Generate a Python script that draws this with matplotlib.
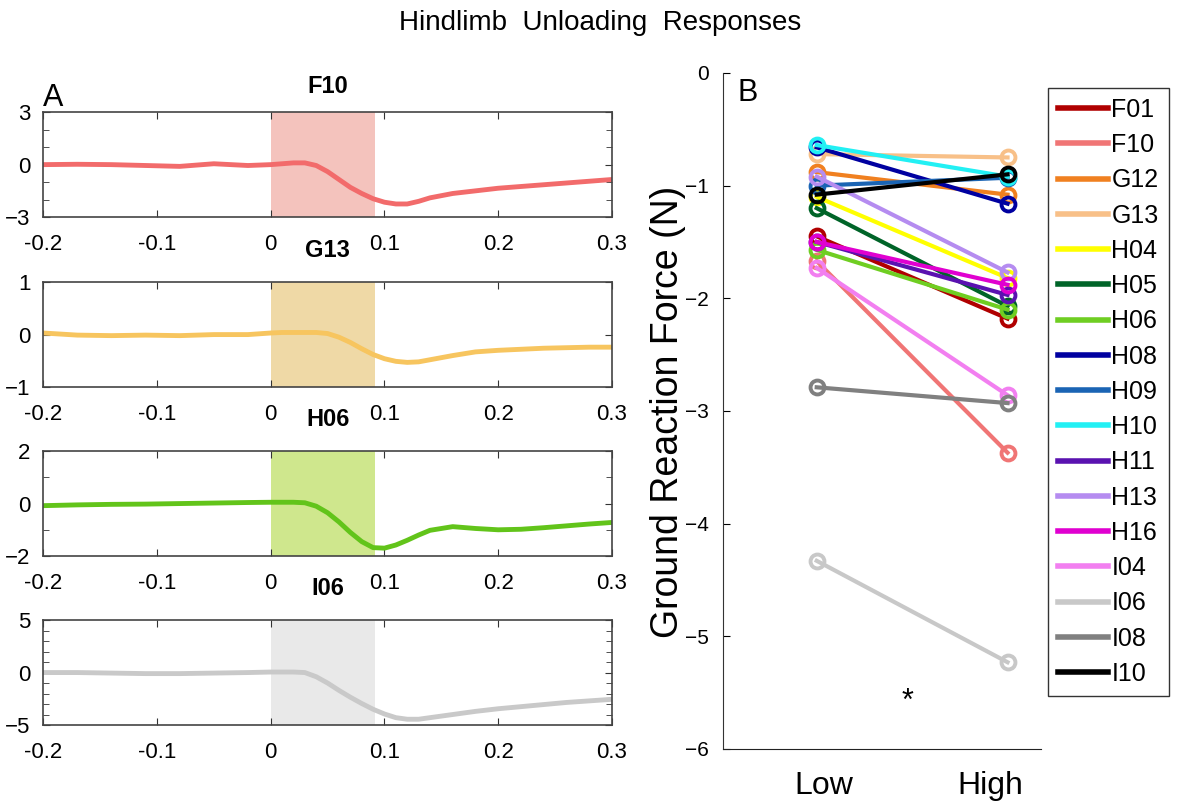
import numpy as np
import matplotlib.pyplot as plt
from matplotlib.ticker import MultipleLocator

plt.rcParams['font.family'] = ['Liberation Sans', 'DejaVu Sans']

# ---- panel A: traces ----
t = [-0.2, -0.17, -0.14, -0.11, -0.08, -0.05, -0.02, 0.0, 0.01, 0.02, 0.03,
     0.04, 0.05, 0.06, 0.07, 0.08, 0.09, 0.10, 0.11, 0.12, 0.13, 0.14, 0.16,
     0.18, 0.20, 0.22, 0.24, 0.26, 0.28, 0.30]

f10 = [0.0, 0.02, 0.0, -0.05, -0.1, 0.05, -0.05, 0.0, 0.05, 0.1, 0.1,
       -0.05, -0.4, -0.85, -1.3, -1.65, -1.95, -2.15, -2.25, -2.25, -2.1, -1.9, -1.65,
       -1.5, -1.35, -1.25, -1.15, -1.05, -0.95, -0.85]
g13 = [0.03, -0.01, -0.02, -0.01, -0.02, 0.0, 0.0, 0.03, 0.04, 0.04, 0.04,
       0.04, 0.02, -0.05, -0.15, -0.27, -0.38, -0.46, -0.51, -0.53, -0.52, -0.48, -0.4,
       -0.33, -0.3, -0.28, -0.26, -0.25, -0.24, -0.24]
h06 = [-0.08, -0.05, -0.03, -0.02, 0.0, 0.02, 0.04, 0.05, 0.05, 0.05, 0.03,
       -0.1, -0.35, -0.7, -1.1, -1.45, -1.68, -1.7, -1.58, -1.4, -1.2, -1.02, -0.88,
       -0.95, -1.0, -0.98, -0.92, -0.85, -0.78, -0.72]
i06 = [0.0, 0.0, -0.05, -0.1, -0.1, -0.05, 0.0, 0.05, 0.05, 0.05, 0.0,
       -0.4, -1.0, -1.7, -2.35, -2.95, -3.5, -3.95, -4.3, -4.45, -4.45, -4.3, -4.0,
       -3.7, -3.45, -3.25, -3.05, -2.85, -2.7, -2.55]

trace_names = ['F10', 'G13', 'H06', 'I06']
traces = [f10, g13, h06, i06]
trace_colors = ['#f26b6b', '#f7c55f', '#62c41a', '#c9c9c9']
shade_colors = ['#f4c3bd', '#efd9a6', '#cfe78d', '#e9e9e9']
ylims = [3, 1, 2, 5]
window_end = 0.092

# ---- panel B: low / high ----
animals = ['F01', 'F10', 'G12', 'G13', 'H04', 'H05', 'H06', 'H08', 'H09',
           'H10', 'H11', 'H13', 'H16', 'I04', 'I06', 'I08', 'I10']
low = [-1.45, -1.67, -0.88, -0.72, -1.1, -1.2, -1.57, -0.66, -1.0,
       -0.64, -1.5, -0.92, -1.5, -1.73, -4.33, -2.79, -1.08]
high = [-2.18, -3.37, -1.08, -0.75, -1.82, -2.07, -2.1, -1.16, -0.93,
        -0.92, -1.97, -1.77, -1.88, -2.86, -5.23, -2.93, -0.9]
colors = ['#b00000', '#f07575', '#f08020', '#f8c088', '#ffff00', '#006428',
          '#6fce22', '#0000a0', '#1a64b4', '#22f0f4', '#5a12b0', '#b58cf0',
          '#e000d0', '#f27ff0', '#c8c8c8', '#808080', '#000000']

fig = plt.figure(figsize=(12, 8.07), dpi=100)
fig.text(0.5, 0.972, 'Hindlimb  Unloading  Responses', ha='center', va='center',
         fontsize=20)

bottoms = [0.731, 0.5204, 0.311, 0.1016]
for i in range(4):
    ax = fig.add_axes([0.036, bottoms[i], 0.474, 0.130])
    ax.axvspan(0, window_end, color=shade_colors[i], lw=0)
    ax.plot(t, traces[i], color=trace_colors[i], lw=3.5)
    ax.set_xlim(-0.2, 0.3)
    ax.set_ylim(-ylims[i], ylims[i])
    ax.set_xticks([-0.2, -0.1, 0, 0.1, 0.2, 0.3])
    ax.set_xticklabels(['-0.2', '-0.1', '0', '0.1', '0.2', '0.3'])
    ax.set_yticks([-ylims[i], 0, ylims[i]])
    if i != 1:
        ax.yaxis.set_minor_locator(MultipleLocator(1))
    ax.tick_params(direction='in', top=True, right=True, labelsize=16,
                   length=5, color='#333333')
    ax.tick_params(axis='x', pad=12)
    ax.tick_params(axis='y', pad=9)
    ax.tick_params(which='minor', direction='in', right=True, length=4,
                   color='#333333')
    for s in ax.spines.values():
        s.set_color('#444444')
        s.set_linewidth(1.2)
    ax.set_title(trace_names[i], fontsize=17, fontweight='bold',
                 pad=14 if i == 0 else 18)

fig.text(0.036, 0.878, 'A', fontsize=22, va='center')

# right panel
axb = fig.add_axes([0.6025, 0.0719, 0.265, 0.8377])
for k in range(len(animals)):
    axb.plot([0.96, 2.1], [low[k], high[k]], color=colors[k], lw=3,
             marker='o', ms=10, mfc='none', mew=2.8, label=animals[k])
axb.text(1.5, -5.58, '*', ha='center', va='center', fontsize=22)
axb.set_xlim(0.4, 2.3)
axb.set_ylim(-6, 0)
axb.set_xticks([1, 2])
axb.set_xticklabels(['Low', 'High'], fontsize=23)
axb.set_yticks(range(-6, 1))
axb.tick_params(axis='y', direction='in', labelsize=15, length=5, pad=10)
axb.tick_params(axis='x', length=0, pad=16)
axb.spines['top'].set_visible(False)
axb.spines['right'].set_visible(False)
axb.spines['left'].set_color('#333333')
axb.spines['bottom'].set_color('#222222')
axb.text(-0.173, 0.498, 'Ground Reaction Force (N)', transform=axb.transAxes,
         rotation=90, ha='center', va='center', fontsize=27)
axb.text(0.045, 0.97, 'B', transform=axb.transAxes, fontsize=22, va='center')

leg = fig.legend(loc='upper left', bbox_to_anchor=(0.873, 0.891),
                 fontsize=18, handlelength=2.0, handletextpad=0.15,
                 labelspacing=0.45, borderpad=0.4, borderaxespad=0,
                 fancybox=False, edgecolor='#333333', framealpha=1)
for h in leg.legend_handles:
    h.set_marker('')
    h.set_linewidth(4)

fig.savefig('out.png', dpi=100)
